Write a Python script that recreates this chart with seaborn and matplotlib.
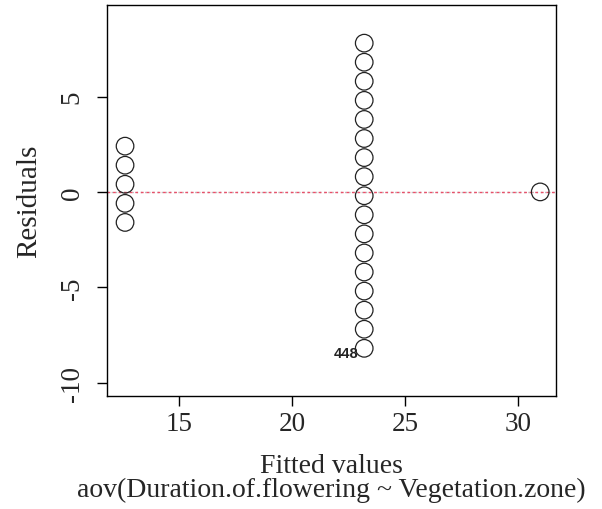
import matplotlib
matplotlib.use("Agg")
import matplotlib.pyplot as plt
import seaborn as sns
import pandas as pd

# Data
fitted_low = [12.6] * 5
resid_low = [2.4, 1.4, 0.4, -0.6, -1.6]
fitted_mid = [23.2] * 17
resid_mid = [7.8, 6.8, 5.8, 4.8, 3.8, 2.8, 1.8, 0.8, -0.2,
              -1.2, -2.2, -3.2, -4.2, -5.2, -6.2, -7.2, -8.2]
fitted_high = [31.0]
resid_high = [0.0]
x_ticks = [15, 20, 25, 30]
y_ticks = [-10, -5, 0, 5]
outlier_label = "448"
outlier_xy = (23.2, -8.2)

df = pd.DataFrame({
    "fitted": fitted_low + fitted_mid + fitted_high,
    "resid": resid_low + resid_mid + resid_high,
})

sns.set_style("white")
plt.rcParams["font.family"] = ["Liberation Serif", "DejaVu Serif"]

fig = plt.figure(figsize=(6.02, 5.10), dpi=100)
ax = fig.add_axes([107 / 602, 1 - 397 / 510, (556 - 107) / 602, (397 - 6) / 510])

ax.axhline(0, color="#bbbbbb", lw=1, ls=(0, (1, 2)), zorder=1)
ax.axhline(0, color="#e8506a", lw=1, ls=(0, (2, 2)), zorder=1)

sns.scatterplot(data=df, x="fitted", y="resid", ax=ax, s=160,
                facecolor="none", edgecolor="#222222", linewidth=0.9,
                marker="o", zorder=3, legend=False)

ax.text(outlier_xy[0] - 0.25, outlier_xy[1] - 0.22, outlier_label,
        ha="right", va="center", fontsize=10.5, fontweight="bold",
        family=["Liberation Sans", "DejaVu Sans"], color="#222222")

ax.set_xlim(11.8, 31.7)
ax.set_ylim(-10.7, 9.8)
ax.set_xticks(x_ticks)
ax.set_yticks(y_ticks)
ax.set_xticklabels([str(v) for v in x_ticks], fontsize=19.5)
ax.set_yticklabels([str(v) for v in y_ticks], fontsize=19.5, rotation=90, va="center")

ax.tick_params(axis="both", which="both", direction="out", length=7, width=1,
               color="black", left=True, bottom=True)
ax.tick_params(axis="x", pad=4)
ax.tick_params(axis="y", pad=9)
for sp in ax.spines.values():
    sp.set_visible(True)
    sp.set_color("black")
    sp.set_linewidth(1)

ax.set_xlabel("")
ax.set_ylabel("Residuals", fontsize=21, labelpad=13)

fig.text(331 / 602, 1 - 467 / 510, "Fitted values", ha="center", va="center", fontsize=20)
fig.text(331 / 602, 1 - 490 / 510, "aov(Duration.of.flowering ~ Vegetation.zone)",
         ha="center", va="center", fontsize=20)

fig.savefig("out.png", dpi=100, facecolor="white")
